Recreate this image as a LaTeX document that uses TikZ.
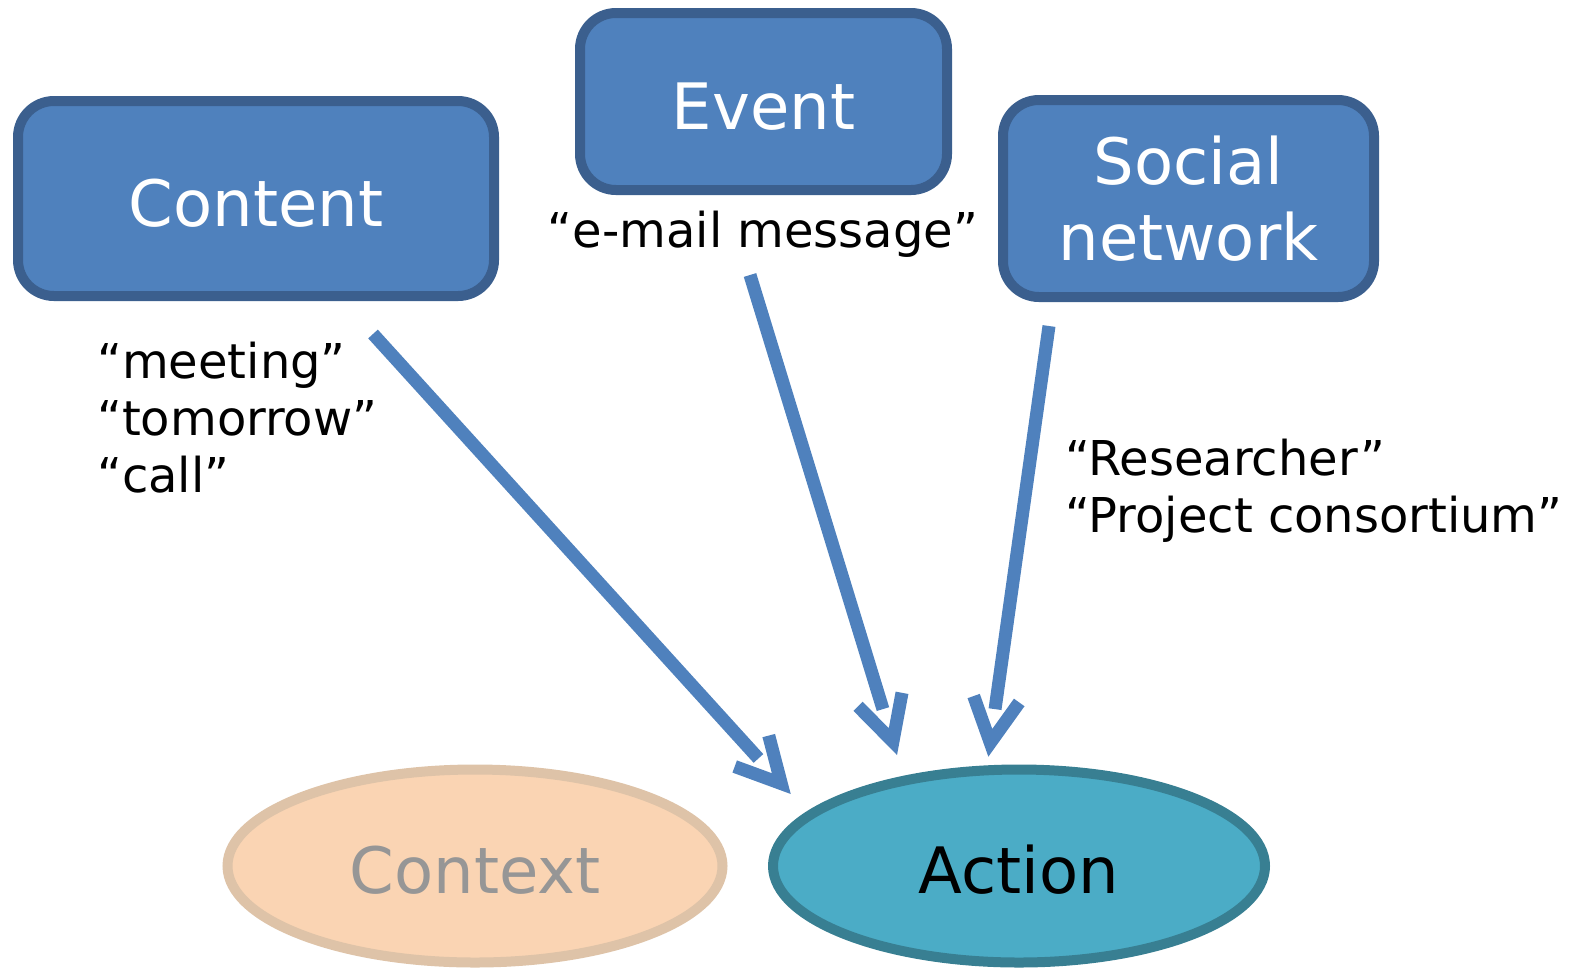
\documentclass[tikz,border=0pt]{standalone}
\usepackage{fontspec}
\setmainfont{DejaVu Sans}
\usetikzlibrary{shapes.geometric}

\definecolor{boxfill}{HTML}{4F81BD}
\definecolor{boxline}{HTML}{3B5F8E}
\definecolor{arrowblue}{HTML}{4F81BD}
\definecolor{ctxfill}{HTML}{FAD4B3}
\definecolor{ctxline}{HTML}{DEC3A8}
\definecolor{ctxtext}{HTML}{969696}
\definecolor{actfill}{HTML}{4BACC6}
\definecolor{actline}{HTML}{387F92}

% open V head whose shaft stops short of the vertex
\pgfdeclarearrow{
  name = OpenV,
  parameters = {\the\pgflinewidth},
  setup code = {
    \pgfarrowssettipend{0pt}
    \pgfarrowssetlineend{-34pt}
    \pgfarrowssetbackend{-44pt}
    \pgfarrowssetvisualbackend{-44pt}
    \pgfarrowshullpoint{0pt}{0pt}
    \pgfarrowshullpoint{-44pt}{23pt}
    \pgfarrowshullpoint{-44pt}{-23pt}
  },
  drawing code = {
    \pgfsetdash{}{0pt}
    \pgfsetbuttcap
    \pgfsetmiterjoin
    \pgfpathmoveto{\pgfpoint{-44pt}{23pt}}
    \pgfpathlineto{\pgfpointorigin}
    \pgfpathlineto{\pgfpoint{-44pt}{-23pt}}
    \pgfusepathqstroke
  }
}

\tikzset{
  bigtext/.style={font=\fontsize{64}{76}\selectfont},
  oneline/.style={text height=55pt, text depth=0pt},
  blk/.style={draw=boxline, fill=boxfill, line width=10pt, rounded corners=36pt,
    text=white, bigtext, inner sep=0pt, align=center},
  ctxshape/.style={ellipse, draw=ctxline, fill=ctxfill, line width=10pt,
    text=ctxtext, bigtext, oneline, inner sep=0pt},
  actshape/.style={ellipse, draw=actline, fill=actfill, line width=10pt,
    text=black, bigtext, oneline, inner sep=0pt},
  lbl/.style={inner sep=0pt, text=black, font=\fontsize{48}{57}\selectfont},
  link/.style={draw=arrowblue, line width=13pt, -OpenV},
}

\begin{document}
\begin{tikzpicture}[x=1pt, y=-1pt]
\useasboundingbox (0,0) rectangle (1573,970);

% source boxes
\node[blk, oneline, minimum width=476pt, minimum height=195pt] (content) at (256,198.5) {Content};
\node[blk, oneline, minimum width=367pt, minimum height=177pt] (event) at (763.5,101.5) {Event};
\node[blk, minimum width=371pt, minimum height=197pt] (social) at (1188.5,198.5) {Social\\network};

% target ellipses
\node[ctxshape, minimum width=495pt, minimum height=193pt] (context) at (475,866) {Context};
\node[actshape, minimum width=492pt, minimum height=193pt] (action) at (1019,866) {Action};

% example labels (anchored at the baseline of their last line)
\node[lbl, anchor=base] (evlbl) at (763,247) {“e-mail message”};
\node[lbl, anchor=base west, align=left] (ctlbl) at (97,492) {“meeting”\\“tomorrow”\\“call”};
\node[lbl, anchor=base west, align=left] (snlbl) at (1065,532) {“Researcher”\\“Project consortium”};

% arrow end points
\coordinate (a1s) at (373,334);
\coordinate (a1t) at (781.3,783.6);
\coordinate (a2s) at (750,275);
\coordinate (a2t) at (892.9,741.6);
\coordinate (a3s) at (1049,326);
\coordinate (a3t) at (990.3,742.8);

\draw[link] (a1s) -- (a1t);
\draw[link] (a2s) -- (a2t);
\draw[link] (a3s) -- (a3t);
\end{tikzpicture}
\end{document}
